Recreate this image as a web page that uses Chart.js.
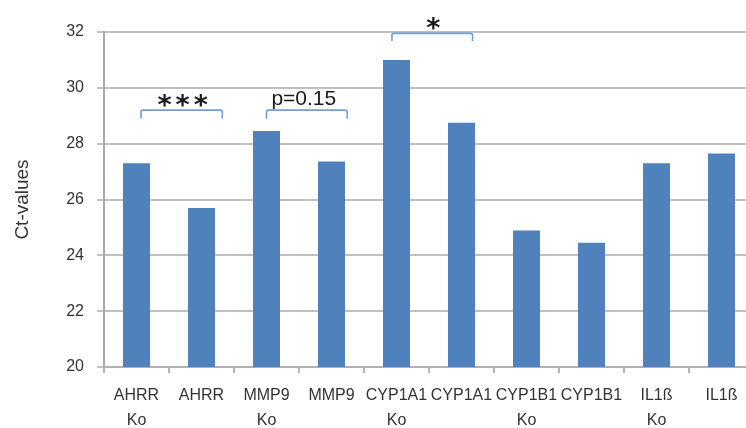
<!DOCTYPE html>
<html>
<head>
<meta charset="utf-8">
<script src="https://cdn.jsdelivr.net/npm/chart.js@4/dist/chart.umd.min.js"></script>
<style>
  html, body { margin: 0; padding: 0; background: #fff; overflow: hidden; }
  #wrap { width: 746px; height: 428px; overflow: hidden; position: relative; }
  canvas { display: block; }
</style>
</head>
<body>
<div id="wrap"><canvas id="c" width="756" height="428"></canvas></div>
<script>
const categories = [
  ['AHRR', 'Ko'], ['AHRR'], ['MMP9', 'Ko'], ['MMP9'],
  ['CYP1A1', 'Ko'], ['CYP1A1'], ['CYP1B1', 'Ko'], ['CYP1B1'],
  ['IL1ß', 'Ko'], ['IL1ß']
];
const ctValues = [27.3, 25.7, 28.45, 27.36, 31.0, 28.75, 24.89, 24.45, 27.3, 27.65];
const yTicks = { min: 20, max: 32, step: 2 };
// significance brackets: start/end in category-index units, y in data units
const bracketFrom = [0.07, 2.0, 3.93];
const bracketTo = [1.32, 3.24, 5.17];
const bracketTop = [29.2, 29.2, 31.95];
const bracketEnd = [28.9, 28.9, 31.68];
const bracketLabels = ['***', 'p=0.15', '*'];

const bracketPlugin = {
  id: 'brackets',
  afterDatasetsDraw(chart) {
    const { ctx, scales: { x, y } } = chart;
    ctx.save();
    for (let i = 0; i < bracketLabels.length; i++) {
      const x1 = x.getPixelForValue(bracketFrom[i]);
      const x2 = x.getPixelForValue(bracketTo[i]);
      const yt = y.getPixelForValue(bracketTop[i]);
      const ye = y.getPixelForValue(bracketEnd[i]);
      ctx.strokeStyle = '#6f9fd8';
      ctx.lineWidth = 1.6;
      ctx.lineJoin = 'round';
      ctx.beginPath();
      ctx.moveTo(x1, ye);
      ctx.lineTo(x1, yt + 2);
      ctx.quadraticCurveTo(x1, yt, x1 + 2, yt);
      ctx.lineTo(x2 - 2, yt);
      ctx.quadraticCurveTo(x2, yt, x2, yt + 2);
      ctx.lineTo(x2, ye);
      ctx.stroke();
      const cx = (x1 + x2) / 2;
      ctx.fillStyle = '#1a1a1a';
      ctx.textAlign = 'center';
      ctx.textBaseline = 'alphabetic';
      if (bracketLabels[i] === 'p=0.15') {
        ctx.font = '21px "Liberation Sans", Arial, sans-serif';
        ctx.fillText(bracketLabels[i], cx - 3, yt - 5);
      } else {
        ctx.font = 'bold 27px "DejaVu Sans", sans-serif';
        if (bracketLabels[i].length > 1) {
          ctx.letterSpacing = '4px';
          ctx.fillText(bracketLabels[i], cx + 3, yt + 4);
          ctx.letterSpacing = '0px';
        } else {
          ctx.fillText(bracketLabels[i], cx + 1, yt + 4);
        }
      }
    }
    ctx.restore();
  }
};

new Chart(document.getElementById('c'), {
  type: 'bar',
  data: {
    labels: categories,
    datasets: [{
      data: ctValues,
      backgroundColor: '#4f81bd',
      borderWidth: 0,
      categoryPercentage: 0.83,
      barPercentage: 0.5
    }]
  },
  options: {
    responsive: false,
    animation: false,
    devicePixelRatio: 1,
    layout: { padding: { top: 32, right: 2, left: 0, bottom: 0 } },
    plugins: { legend: { display: false }, tooltip: { enabled: false } },
    scales: {
      x: {
        offset: true,
        grid: { drawOnChartArea: false, drawTicks: true, tickLength: 6, color: '#b5b5b5', lineWidth: 2, offset: true },
        border: { color: '#b0b0b0', width: 2 },
        ticks: {
          color: '#333',
          padding: 10.5,
          maxRotation: 0,
          autoSkip: false,
          font: { family: '"Liberation Sans", Arial, sans-serif', size: 16, lineHeight: 1.5625 }
        },
        afterFit(scale) { scale.height = 61; }
      },
      y: {
        min: yTicks.min,
        max: yTicks.max,
        grid: { color: '#c0c0c0', lineWidth: 2, tickLength: 7 },
        border: { color: '#a8a8a8', width: 2 },
        ticks: {
          stepSize: yTicks.step,
          color: '#333',
          padding: 13,
          font: { family: '"Liberation Sans", Arial, sans-serif', size: 16 }
        },
        title: {
          display: true,
          text: 'Ct-values',
          color: '#333',
          padding: { top: 11, bottom: 0 },
          font: { family: '"Liberation Sans", Arial, sans-serif', size: 19 }
        },
        afterFit(scale) { scale.width = 104; }
      }
    }
  },
  plugins: [bracketPlugin]
});
</script>
</body>
</html>
